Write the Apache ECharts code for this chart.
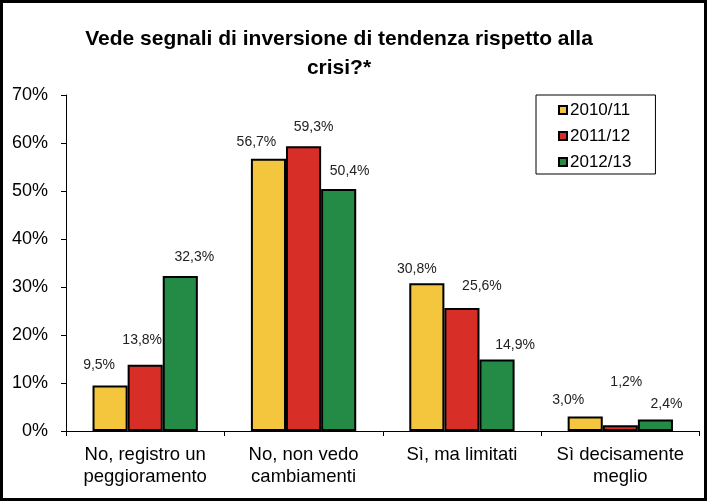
<!DOCTYPE html>
<html>
<head>
<meta charset="utf-8">
<script src="https://cdn.jsdelivr.net/npm/echarts@6/dist/echarts.min.js"></script>
<style>
html,body{margin:0;padding:0;background:#fff;}
#c{width:707px;height:501px;}
</style>
</head>
<body>
<div id="c"></div>
<script>
var titleText = 'Vede segnali di inversione di tendenza rispetto alla\ncrisi?*';
var categories = ['No, registro un\npeggioramento', 'No, non vedo\ncambiamenti', 'Sì, ma limitati', 'Sì decisamente\nmeglio'];
var seriesNames = ['2010/11', '2011/12', '2012/13'];
var values2010 = [9.5, 56.7, 30.8, 3.0];
var values2011 = [13.8, 59.3, 25.6, 1.2];
var values2012 = [32.3, 50.4, 14.9, 2.4];
var yTicks = [0, 10, 20, 30, 40, 50, 60, 70];

// layout-only: manual label offsets [dx, dy] per series per category
var labelOffsets = [
  [[-11, -13], [-12, -10], [-10, -7], [-17, -9]],
  [[-3, -18], [10, -12], [20, -15], [6, -36]],
  [[14, -12], [11, -11], [18, -7], [11, -8]]
];
var colors = ['#F4C63E', '#D72F28', '#238B45'];
var FONT = '"Liberation Sans", Arial, Helvetica, sans-serif';

function fmt(v) { return v.toFixed(1).replace('.', ',') + '%'; }

var allValues = [values2010, values2011, values2012];
var series = allValues.map(function (vals, si) {
  return {
    name: seriesNames[si],
    type: 'bar',
    barGap: '0%',
    barCategoryGap: '33.5%',
    itemStyle: { color: colors[si], borderColor: '#000', borderWidth: 2 },
    data: vals.map(function (v, ci) {
      return {
        value: v,
        label: { offset: labelOffsets[si][ci] }
      };
    }),
    label: {
      show: true,
      position: 'top',
      distance: 0,
      color: '#222',
      fontFamily: FONT,
      fontSize: 14,
      formatter: function (p) { return fmt(p.value); }
    }
  };
});

var chart = echarts.init(document.getElementById('c'), null, { renderer: 'canvas' });
chart.setOption({
  animation: false,
  backgroundColor: '#fff',
  title: {
    text: titleText,
    left: 334,
    top: 20,
    textAlign: 'center',
    textStyle: { fontFamily: FONT, fontWeight: 'bold', fontSize: 21, lineHeight: 29, color: '#000' }
  },
  legend: {
    orient: 'vertical',
    left: 536,
    top: 95,
    icon: 'rect',
    itemWidth: 8,
    itemHeight: 8,
    itemGap: 8,
    borderColor: '#000',
    borderWidth: 1,
    borderRadius: 0,
    padding: [6, 24, 3, 22],
    textStyle: { fontFamily: FONT, fontSize: 17, lineHeight: 18, color: '#000', padding: [0, 0, 0, -2] },
    data: seriesNames
  },
  grid: { left: 66, right: 7.5, top: 95, bottom: 70, containLabel: false },
  xAxis: {
    type: 'category',
    data: categories,
    axisLine: { lineStyle: { color: '#000', width: 1 } },
    axisTick: { show: true, length: 5, lineStyle: { color: '#000' } },
    axisLabel: { color: '#000', fontFamily: FONT, fontSize: 18.5, lineHeight: 22, margin: 13, interval: 0 }
  },
  yAxis: {
    type: 'value',
    min: yTicks[0],
    max: yTicks[yTicks.length - 1],
    interval: 10,
    splitLine: { show: false },
    axisLine: { show: true, lineStyle: { color: '#000', width: 1 } },
    axisTick: { show: true, length: 5, lineStyle: { color: '#000' } },
    axisLabel: { color: '#000', fontFamily: FONT, fontSize: 18, margin: 18, formatter: '{value}%' }
  },
  graphic: [{
    type: 'rect',
    shape: { x: 1.5, y: 1.5, width: 704, height: 498 },
    style: { fill: null, stroke: '#000', lineWidth: 3 },
    silent: true,
    z: 100
  }],
  series: series
});
</script>
</body>
</html>
